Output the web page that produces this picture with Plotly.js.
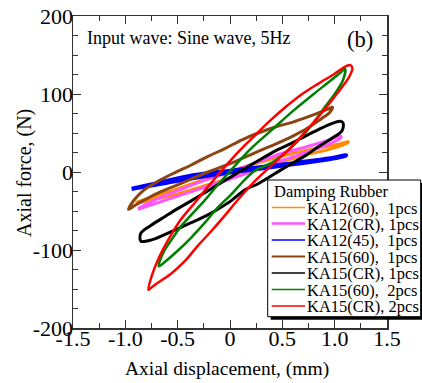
<!DOCTYPE html>
<html>
<head>
<meta charset="utf-8">
<script src="https://cdn.plot.ly/plotly-3.0.1.min.js"></script>
<style>html,body{margin:0;padding:0;background:#fff;}#chart{width:422px;height:383px;}</style>
</head>
<body>
<div id="chart"></div>
<script>
// ---- data ----
const seriesNames = ["KA12(60),  1pcs","KA12(CR), 1pcs","KA12(45),  1pcs","KA15(60),  1pcs","KA15(CR), 1pcs","KA15(60),  2pcs","KA15(CR), 2pcs"];
const seriesColors = ["#ff8c00","#ff55ff","#0000ff","#8b4513","#000000","#008000","#ff0000"];

const ka12_60_x = [-0.90,-0.60,-0.30,0.00,0.30,0.60,0.90,1.05,1.13, 1.13,1.00,0.70,0.40,0.10,-0.20,-0.50,-0.75,-0.90];
const ka12_60_y = [-39,-26,-12,1,13,24,32,36,39, 38,31,21,9,-4,-16,-28,-36,-40];

const ka12_cr_x = [-0.88,-0.75,-0.50,-0.25,0.00,0.25,0.50,0.75,0.95,1.06, 1.06,0.95,0.75,0.50,0.25,0.00,-0.25,-0.50,-0.75,-0.88];
const ka12_cr_y = [-47,-38,-24,-11,0,12,24,33,41,46, 44,36,26,15,3,-9,-20,-31,-42,-48];

const ka12_45_x = [-0.94,-0.70,-0.40,-0.10,0.20,0.50,0.80,1.00,1.11, 1.11,0.90,0.60,0.30,0.00,-0.30,-0.60,-0.85,-0.94];
const ka12_45_y = [-21,-14,-5,0.5,5,10,15,19,22, 21,15,9.5,4,-1,-7,-14,-20,-22];

const ka15_60_x = [-0.97,-0.91,-0.82,-0.69,-0.53,-0.37,-0.21,-0.05,0.11,0.27,0.44,0.60,0.75,0.87,0.94,0.98,
                   0.95,0.87,0.75,0.60,0.44,0.28,0.11,-0.05,-0.21,-0.37,-0.53,-0.69,-0.82,-0.91,-0.97];
const ka15_60_y = [-48,-35,-23,-12,-1,9,20,30,41,50,58,64,71,77,81,83,
                   76,68,57,46,36,27,17,8,0,-9,-18,-27,-36,-43,-48];

const ka15_cr_x = [-0.86,-0.85,-0.75,-0.62,-0.50,-0.37,-0.21,-0.05,0.11,0.21,0.34,0.46,0.59,0.72,0.84,0.97,1.05,1.08,
                   1.07,0.97,0.84,0.72,0.59,0.43,0.27,0.14,0.01,-0.12,-0.24,-0.37,-0.50,-0.62,-0.75,-0.85,-0.86];
const ka15_cr_y = [-86,-78,-68,-57,-47,-37,-24,-11,2,10,20,29,37,46,54,62,65,63,
                   53,43,32,21,11,-2,-15,-23,-37,-48,-57,-65,-73,-80,-87,-89,-86];

const ka15_60_2_x = [-0.68,-0.64,-0.56,-0.47,-0.37,-0.24,-0.12,0.04,0.20,0.40,0.60,0.80,0.95,1.06,1.10,
                     1.08,1.00,0.90,0.78,0.65,0.52,0.40,0.24,0.14,0.01,-0.12,-0.24,-0.37,-0.50,-0.62,-0.68];
const ka15_60_2_y = [-121,-104,-87,-70,-55,-36,-17,7,30,54,78,100,116,128,132,
                     118,100,82,60,40,24,12,2,-10,-29,-46,-65,-84,-101,-115,-121];

const ka15_cr_2_x = [-0.78,-0.75,-0.69,-0.59,-0.47,-0.34,-0.18,-0.02,0.14,0.24,0.36,0.52,0.68,0.84,1.00,1.10,1.15,
                     1.17,1.16,1.13,1.02,0.89,0.73,0.57,0.41,0.235,0.08,-0.05,-0.18,-0.31,-0.43,-0.56,-0.69,-0.76,-0.78];
const ka15_cr_2_y = [-151,-134,-113,-87,-61,-40,-14,11,34,47,63,82,99,113,126,135,137,
                     133,128,120,100,78,53,30,10,-12,-35,-56,-76,-95,-114,-130,-142,-149,-151];

const xTickVals = [-1.5,-1.0,-0.5,0,0.5,1.0,1.5];
const xTickText = ["-1.5","-1.0","-0.5","0","0.5","1.0","1.5"];
const yTickVals = [-200,-100,0,100,200];
const yTickText = ["-200","-100","0","100","200"];

const xTitle = "Axial displacement, (mm)";
const yTitle = "Axial force, (N)";
const legendTitle = "Damping Rubber";
const noteText = "Input wave: Sine wave, 5Hz";
const panelLabel = "(b)";

// ---- figure ----
const xs = [ka12_60_x, ka12_cr_x, ka12_45_x, ka15_60_x, ka15_cr_x, ka15_60_2_x, ka15_cr_2_x];
const ys = [ka12_60_y, ka12_cr_y, ka12_45_y, ka15_60_y, ka15_cr_y, ka15_60_2_y, ka15_cr_2_y];
const widths = [3, 3, 3.5, 3, 3, 2.5, 2.5];
const legendLineWidths = [1.5, 2.5, 1.5, 2, 1.5, 1.5, 1.5];

const FONT = "Liberation Serif, serif";
const traces = xs.map((x, i) => ({
  type: "scatter", mode: "lines", x: x, y: ys[i], name: seriesNames[i], showlegend: false,
  line: {color: seriesColors[i], width: widths[i], shape: "spline", smoothing: 1}
}));

const axisCommon = {
  showline: true, linecolor: "#333", linewidth: 1.5, mirror: "allticks",
  ticks: "inside", ticklen: 8, tickwidth: 1, tickcolor: "#333",
  showgrid: false, zeroline: false, automargin: false,
  tickfont: {family: FONT, size: 22, color: "#000"}
};

// legend geometry (paper coordinates)
const L = 73, W = 314, B = 328, H = 312;
const px2x = p => (p - L) / W;
const px2y = p => (B - p) / H;
const legBox = {x0: 267.7, x1: 420.7, y0: 180, y1: 316.7};
const rowY = [207.5, 223.5, 240, 256.5, 273, 289.5, 306];

const shapes = [
  {type: "rect", xref: "paper", yref: "paper", layer: "above",
   x0: px2x(legBox.x0 + 3), x1: px2x(legBox.x1 + 3), y0: px2y(legBox.y1 + 3), y1: px2y(legBox.y0 + 3),
   fillcolor: "#000", line: {width: 0}},
  {type: "rect", xref: "paper", yref: "paper", layer: "above",
   x0: px2x(legBox.x0), x1: px2x(legBox.x1), y0: px2y(legBox.y1), y1: px2y(legBox.y0),
   fillcolor: "#fff", line: {color: "#000", width: 1}}
];
const annotations = [
  {xref: "paper", yref: "paper", x: px2x(85), y: px2y(38), xanchor: "left", yanchor: "middle",
   text: noteText, showarrow: false, font: {family: FONT, size: 18, color: "#000"}},
  {xref: "paper", yref: "paper", x: px2x(360), y: px2y(40), xanchor: "center", yanchor: "middle",
   text: panelLabel, showarrow: false, font: {family: FONT, size: 22.5, color: "#000"}},
  {xref: "paper", yref: "paper", x: px2x(227), y: px2y(369), xanchor: "center", yanchor: "middle",
   text: xTitle, showarrow: false, font: {family: FONT, size: 19.5, color: "#000"}},
  {xref: "paper", yref: "paper", x: px2x(24), y: px2y(173), xanchor: "center", yanchor: "middle",
   text: yTitle, textangle: -90, showarrow: false, font: {family: FONT, size: 20, color: "#000"}},
  {xref: "paper", yref: "paper", x: px2x(272), y: px2y(191.5), xanchor: "left", yanchor: "middle",
   text: legendTitle, showarrow: false, font: {family: FONT, size: 16.5, color: "#000"}}
];
seriesNames.forEach((nm, i) => {
  shapes.push({type: "line", xref: "paper", yref: "paper", layer: "above",
    x0: px2x(271.7), x1: px2x(305), y0: px2y(rowY[i]), y1: px2y(rowY[i]),
    line: {color: seriesColors[i], width: legendLineWidths[i]}});
  annotations.push({xref: "paper", yref: "paper", x: px2x(305), y: px2y(rowY[i] + 0.8),
    xanchor: "left", yanchor: "middle", text: nm, showarrow: false,
    font: {family: FONT, size: 16.5, color: "#000"}});
});

const layout = {
  width: 422, height: 383, autosize: false,
  margin: {l: L, r: 422 - L - W, t: B - H, b: 383 - B},
  paper_bgcolor: "#fff", plot_bgcolor: "#fff",
  showlegend: false,
  xaxis: Object.assign({}, axisCommon, {
    range: [-1.5, 1.5], tickmode: "array", tickvals: xTickVals, ticktext: xTickText,
    ticklabelstandoff: -10,
    minor: {tick0: -1.5, dtick: 0.25, ticks: "inside", ticklen: 5, tickwidth: 1, tickcolor: "#333"}
  }),
  yaxis: Object.assign({}, axisCommon, {
    range: [-200, 200], tickmode: "array", tickvals: yTickVals, ticktext: yTickText,
    ticklabelstandoff: -6,
    minor: {tick0: -200, dtick: 25, ticks: "inside", ticklen: 5, tickwidth: 1, tickcolor: "#333"}
  }),
  shapes: shapes,
  annotations: annotations
};

Plotly.newPlot("chart", traces, layout, {displayModeBar: false, staticPlot: true});
</script>
</body>
</html>
